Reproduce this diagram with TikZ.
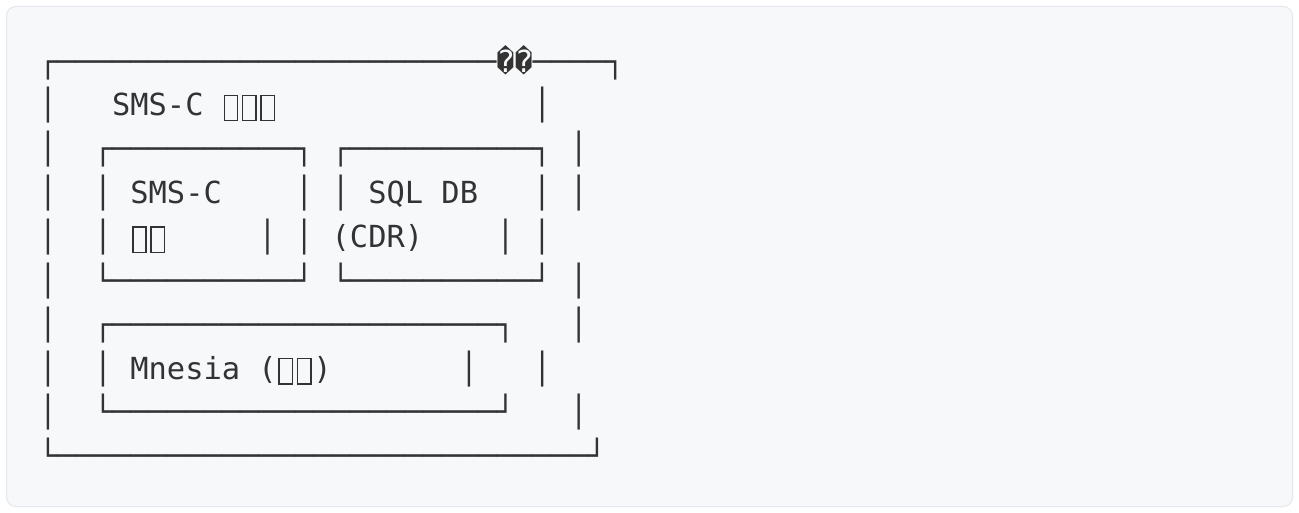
\documentclass[tikz,border=0pt]{standalone}
\usepackage{fontspec}
\newfontfamily\codefont{DejaVu Sans Mono}
\definecolor{cardbg}{HTML}{F6F8FA}
\definecolor{cardline}{HTML}{E4E7EB}
\definecolor{ink}{HTML}{333333}
\ExplSyntaxOn
\cs_new:Npn \repchar #1 #2 {\prg_replicate:nn{#1}{#2}}
\ExplSyntaxOff
\newcommand\hz[1]{\repchar{#1}{─}}
\newcommand\sk[1]{\repchar{#1}{~}}
\newcommand\tofu{\makebox[0.6021em][l]{\hspace{0.055em}\raisebox{-0.13em}{\setlength\fboxsep{0pt}\setlength\fboxrule{0.05em}\fbox{\rule{0pt}{0.78em}\hspace{0.39em}}}}}
\tikzset{
  coderow/.style={anchor=base west, inner sep=0pt, outer sep=0pt,
    font=\codefont\fontsize{22.8pt}{27pt}\selectfont, text=ink},
  card/.style={draw=cardline, fill=cardbg, line width=0.75pt, rounded corners=7pt}
}
\begin{document}
\begin{tikzpicture}[x=0.75pt, y=-0.75pt]
\useasboundingbox (0,0) rectangle (1299,513);
\fill[white] (0,0) rectangle (1299,513);
\path[card] (6.5,6.5) rectangle (1292.5,506.5);
\node[coderow] (r0) at (38.85, 72.15) {┌\hz{24}��\hz{4}┐};
\node[coderow] (r1) at (38.85, 116.00) {│\sk{3}SMS-C~\tofu\tofu\tofu\sk{14}│};
\node[coderow] (r2) at (38.85, 159.85) {│\sk{2}┌\hz{10}┐~┌\hz{10}┐~│};
\node[coderow] (r3) at (38.85, 203.70) {│\sk{2}│~SMS-C\sk{4}│~│~SQL~DB\sk{3}│~│};
\node[coderow] (r4) at (38.85, 247.55) {│\sk{2}│~\tofu\tofu\sk{5}│~│~(CDR)\sk{4}│~│};
\node[coderow] (r5) at (38.85, 291.40) {│\sk{2}└\hz{10}┘~└\hz{10}┘~│};
\node[coderow] (r6) at (38.85, 335.25) {│\sk{2}┌\hz{21}┐\sk{3}│};
\node[coderow] (r7) at (38.85, 379.10) {│\sk{2}│~Mnesia~(\tofu\tofu)\sk{7}│\sk{3}│};
\node[coderow] (r8) at (38.85, 422.95) {│\sk{2}└\hz{21}┘\sk{3}│};
\node[coderow] (r9) at (38.85, 466.80) {└\hz{29}┘};
\end{tikzpicture}
\end{document}
